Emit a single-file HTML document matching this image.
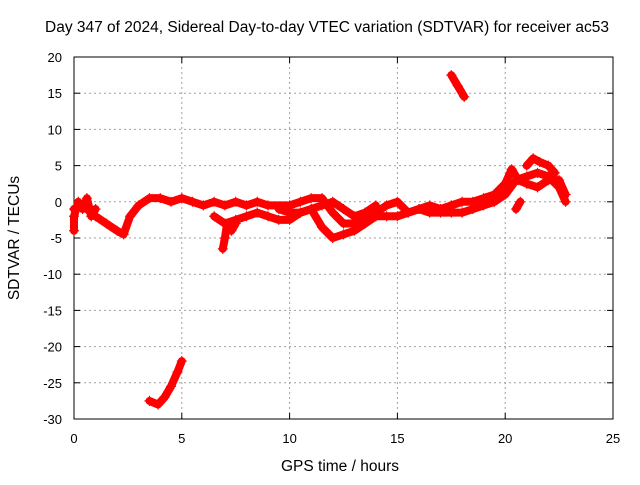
<!DOCTYPE html>
<html><head><meta charset="utf-8"><style>
body{margin:0;background:#fff}
svg text{font-family:"Liberation Sans",sans-serif;font-size:13px;fill:#000}
svg text.big{font-size:15.5px}
</style></head><body>
<svg id="chart" width="640" height="480" xmlns="http://www.w3.org/2000/svg">
<rect width="640" height="480" fill="#fff"/>
<g id="grid"></g><g id="axes"></g><g id="marks"></g>
<text class="big" x="327" y="32" text-anchor="middle">Day 347 of 2024, Sidereal Day-to-day VTEC variation (SDTVAR) for receiver ac53</text>
<text class="big" x="340" y="471" text-anchor="middle">GPS time / hours</text>
<text class="big" transform="translate(19,238) rotate(-90)" text-anchor="middle">SDTVAR / TECUs</text>
</svg>
<script>
const xTicks=[0,5,10,15,20,25];
const yTicks=[20,15,10,5,0,-5,-10,-15,-20,-25,-30];
const strandUpper=[[0,-1],[0.3,-0.5],[0.6,-1],[1,-2],[1.5,-3],[2,-4],[2.3,-4.5],[2.6,-2],[3,-0.5],[3.5,0.5],[4,0.5],[4.5,0],[5,0.5],[5.5,0],[6,-0.5],[6.5,0],[7,-0.5],[7.5,0],[8,-0.5],[8.5,0],[9,-0.5],[10,-0.5],[10.5,0],[11,0.5],[11.5,0.5],[12,-1.5],[12.5,-3],[13,-3],[13.5,-2],[14,-1.5],[14.5,-0.5],[15,0],[15.5,-1.5],[16,-1],[16.5,-1.5],[17,-1.5],[17.5,-1.5],[18,-1.5],[18.5,-1],[19,-0.5],[19.5,0],[20,1],[20.5,3],[21,3.5],[21.5,4],[22,3.5],[22.5,2],[22.8,0]];
const strandLower=[[6.5,-2],[7,-3],[7.5,-2.5],[8,-2],[8.5,-1.5],[9,-2],[9.5,-2.5],[10,-2.5],[10.5,-1.5],[11,-1],[11.5,-3.5],[12,-5],[12.5,-4.5],[13,-4],[13.5,-3],[14,-2],[14.5,-2],[15,-2],[15.5,-1.5],[16,-1],[16.5,-0.5],[17,-1],[17.5,-0.5],[18,0],[18.5,0],[19,0.5],[19.5,1],[20,2.5],[20.3,4.5],[20.6,3],[21,2.5],[21.5,2],[22,3],[22.5,3],[22.8,1]];
const strandMid=[[9.5,-1],[10,-1.5],[10.5,-1.5],[11,-1],[11.5,-0.5],[12,0],[12.5,-1],[13,-2],[13.5,-1.5],[14,-0.5]];
const strandStart=[[0,-4],[0,-2],[0.2,0],[0.4,-1],[0.6,0.5],[0.8,-2],[1,-1]];
const strandDip=[[6.9,-6.5],[7,-5],[7.1,-3],[7.3,-4],[7.5,-3]];
const strandLow=[[3.5,-27.5],[3.9,-28],[4.2,-27],[4.5,-25.5],[4.8,-23.5],[5,-22]];
const strandHigh=[[17.5,17.5],[17.8,16],[18.1,14.5]];
const strandSmall=[[20.5,-1],[20.7,0]];
const strandPeak=[[21,5],[21.3,6],[21.6,5.5],[22,5],[22.3,4]];
const series=[strandUpper,strandLower,strandMid,strandStart,strandDip,strandLow,strandHigh,strandSmall,strandPeak];
const X0=74,X1=613,Y0=419,Y1=57;
const sx=v=>X0+(v-0)/(25-0)*(X1-X0);
const sy=v=>Y0-(v+30)/(20+30)*(Y0-Y1);
const NS="http://www.w3.org/2000/svg";
function mk(t,a,p){const e=document.createElementNS(NS,t);for(const k in a)e.setAttribute(k,a[k]);p.appendChild(e);return e;}
const grid=document.getElementById('grid'),axes=document.getElementById('axes'),marks=document.getElementById('marks');
xTicks.forEach(t=>{const x=sx(t);
 if(t>0&&t<25){const g=mk('line',{x1:x,x2:x,y1:Y1,y2:Y0,stroke:'#a0a0a0','stroke-dasharray':'2,3','stroke-width':1},grid);}
 const l=mk('text',{x:x,y:Y0+24,'text-anchor':'middle'},axes);l.textContent=t;
 
 mk('line',{x1:x,x2:x,y1:Y0,y2:Y0-6,stroke:'#000'},axes);mk('line',{x1:x,x2:x,y1:Y1,y2:Y1+6,stroke:'#000'},axes);});
yTicks.forEach(t=>{const y=sy(t);
 if(t>-30&&t<20){const g=mk('line',{x1:X0,x2:X1,y1:y,y2:y,stroke:'#a0a0a0','stroke-dasharray':'2,3','stroke-width':1},grid);}
 const l=mk('text',{x:X0-12,y:y+5,'text-anchor':'end'},axes);l.textContent=t;
 
 mk('line',{x1:X0,x2:X0+6,y1:y,y2:y,stroke:'#000'},axes);mk('line',{x1:X1,x2:X1-6,y1:y,y2:y,stroke:'#000'},axes);});
const fr=mk('rect',{x:X0,y:Y1,width:X1-X0,height:Y0-Y1,fill:'none',stroke:'#000'},axes);

series.forEach(s=>{
 const pl=mk('polyline',{points:s.map(p=>sx(p[0])+','+sy(p[1])).join(' '),fill:'none',stroke:'#ff0000','stroke-width':8,'stroke-linejoin':'round','stroke-linecap':'round'},marks);
 
 
 s.forEach(p=>{const x=sx(p[0]),y=sy(p[1]);
  const m=mk('path',{d:`M${x-5},${y}H${x+5}M${x},${y-5}V${y+5}`,stroke:'#ff0000','stroke-width':1.2},marks);
  
  });
});
</script>
</body></html>
